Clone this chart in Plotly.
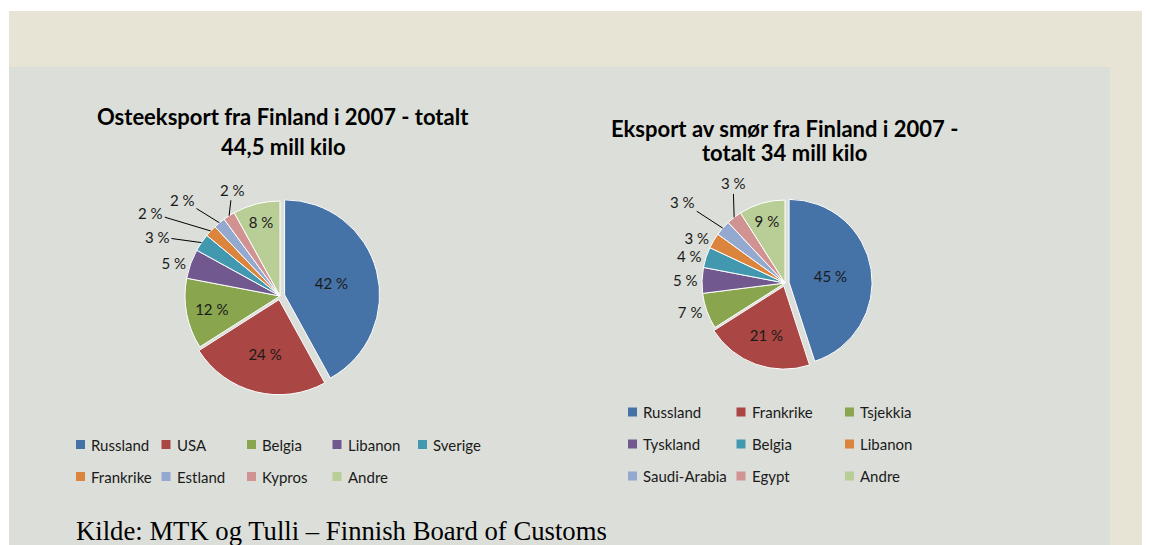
import math

import plotly.graph_objects as go

W, H = 1150, 545
OFF = 8  # body margin of the html page

# osteeksport 2007, andel i prosent
ost_land = ['Russland', 'USA', 'Belgia', 'Libanon', 'Sverige',
            'Frankrike', 'Estland', 'Kypros', 'Andre']
ost_pct = [42, 24, 12, 5, 3, 2, 2, 2, 8]

# smoreksport 2007, andel i prosent
smor_land = ['Russland', 'Frankrike', 'Tsjekkia', 'Tyskland', 'Belgia',
             'Libanon', 'Saudi-Arabia', 'Egypt', 'Andre']
smor_pct = [45, 21, 7, 5, 4, 3, 3, 3, 9]

farger = ['#4572A7', '#AA4643', '#89A54E', '#71588F', '#4198AF',
          '#DB843D', '#93A9CF', '#D19392', '#B9CD96']

ost_tekstpos = ['inside', 'inside', 'inside', 'outside', 'none',
                'none', 'none', 'none', 'inside']
smor_tekstpos = ['inside', 'inside', 'outside', 'outside', 'outside',
                 'outside', 'none', 'none', 'inside']

# etiketter med strek: slice-indeks -> forskyvning (px) fra kanten
ost_strek = {4: (-44, -6), 5: (-60, -18), 6: (-37, -23), 7: (3, -26)}
smor_strek = {6: (-40, -26), 7: (-1, -34)}

FONT = 'Lato'
PULL = [0.05, 0.04]


def px(x):
    return (x - OFF) / W


def py(y):
    return 1 - (y - OFF) / H


def pie_domain(cx, cy, r, pull):
    half = r * (1 + pull)
    return dict(x=[px(cx - half), px(cx + half)], y=[py(cy + half), py(cy - half)])


def pie(labels, values, textpos, cx, cy, r):
    pull = PULL + [0] * (len(values) - len(PULL))
    return go.Pie(
        labels=labels, values=values, sort=False, direction='clockwise', rotation=0,
        marker=dict(colors=farger, line=dict(color='white', width=1)),
        pull=pull, textposition=textpos, texttemplate='%{value} %',
        insidetextorientation='horizontal',
        textfont=dict(family=FONT, size=15, color='#1a1a1a'),
        domain=pie_domain(cx, cy, r, max(pull)),
        showlegend=False, hoverinfo='label+value')


fig = go.Figure()
fig.add_trace(pie(ost_land, ost_pct, ost_tekstpos, 280, 296, 95))
fig.add_trace(pie(smor_land, smor_pct, smor_tekstpos, 785, 283, 83))

shapes = [
    dict(type='rect', xref='paper', yref='paper', x0=px(9), x1=1, y0=0, y1=py(11),
         fillcolor='#E7E4D6', line_width=0, layer='below'),
    dict(type='rect', xref='paper', yref='paper', x0=px(9), x1=px(1110), y0=0, y1=py(67),
         fillcolor='#DCDED9', line_width=0, layer='below'),
]
annotations = []


def strek_etiketter(values, strek, cx, cy, r):
    tot = sum(values)
    for i, (dx, dy) in strek.items():
        mid = (sum(values[:i]) + values[i] / 2) / tot * 2 * math.pi
        hx = cx + r * math.sin(mid)
        hy = cy - r * math.cos(mid)
        annotations.append(dict(
            text='%d %%' % values[i], x=px(hx), y=py(hy), xref='paper', yref='paper',
            ax=dx, ay=dy, showarrow=True, arrowhead=0, arrowwidth=1,
            arrowcolor='black', standoff=0,
            font=dict(family=FONT, size=15, color='#1a1a1a')))


strek_etiketter(ost_pct, ost_strek, 280, 296, 95)
strek_etiketter(smor_pct, smor_strek, 785, 283, 83)


def tittel(linjer, cx, ys, size):
    for tekst, y in zip(linjer, ys):
        annotations.append(dict(
            text='<b>' + tekst + '</b>', x=px(cx), y=py(y), xref='paper', yref='paper',
            xanchor='center', yanchor='middle', showarrow=False,
            font=dict(family=FONT, size=size, color='black')))


tittel(['Osteeksport fra Finland i 2007 - totalt', '44,5 mill kilo'], 283, [117, 146], 22)
tittel(['Eksport av smør fra Finland i 2007 -', 'totalt 34 mill kilo'], 784, [129, 152], 22)


def legende(labels, x0, y0, dx, dy, ncol):
    for i, lab in enumerate(labels):
        x = x0 + (i % ncol) * dx
        y = y0 + (i // ncol) * dy
        shapes.append(dict(type='rect', xref='paper', yref='paper',
                           x0=px(x), x1=px(x + 9), y0=py(y + 4.5), y1=py(y - 4.5),
                           fillcolor=farger[i], line_width=0))
        annotations.append(dict(
            text=lab, x=px(x + 13), y=py(y), xref='paper', yref='paper',
            xanchor='left', yanchor='middle', showarrow=False,
            font=dict(family=FONT, size=15, color='#1a1a1a')))


legende(ost_land, 76, 444.5, 85.5, 32, 5)
legende(smor_land, 628, 412, 108.5, 32, 3)

annotations.append(dict(
    text='Kilde: MTK og Tulli \u2013 Finnish Board of Customs', x=px(74), y=py(531),
    xref='paper', yref='paper', xanchor='left', yanchor='middle', showarrow=False,
    font=dict(family='Liberation Serif', size=26.7, color='black')))

fig.update_layout(
    width=W, height=H, margin=dict(l=0, r=0, t=0, b=0),
    paper_bgcolor='white', plot_bgcolor='white',
    shapes=shapes, annotations=annotations)

fig.write_html('out.html')
